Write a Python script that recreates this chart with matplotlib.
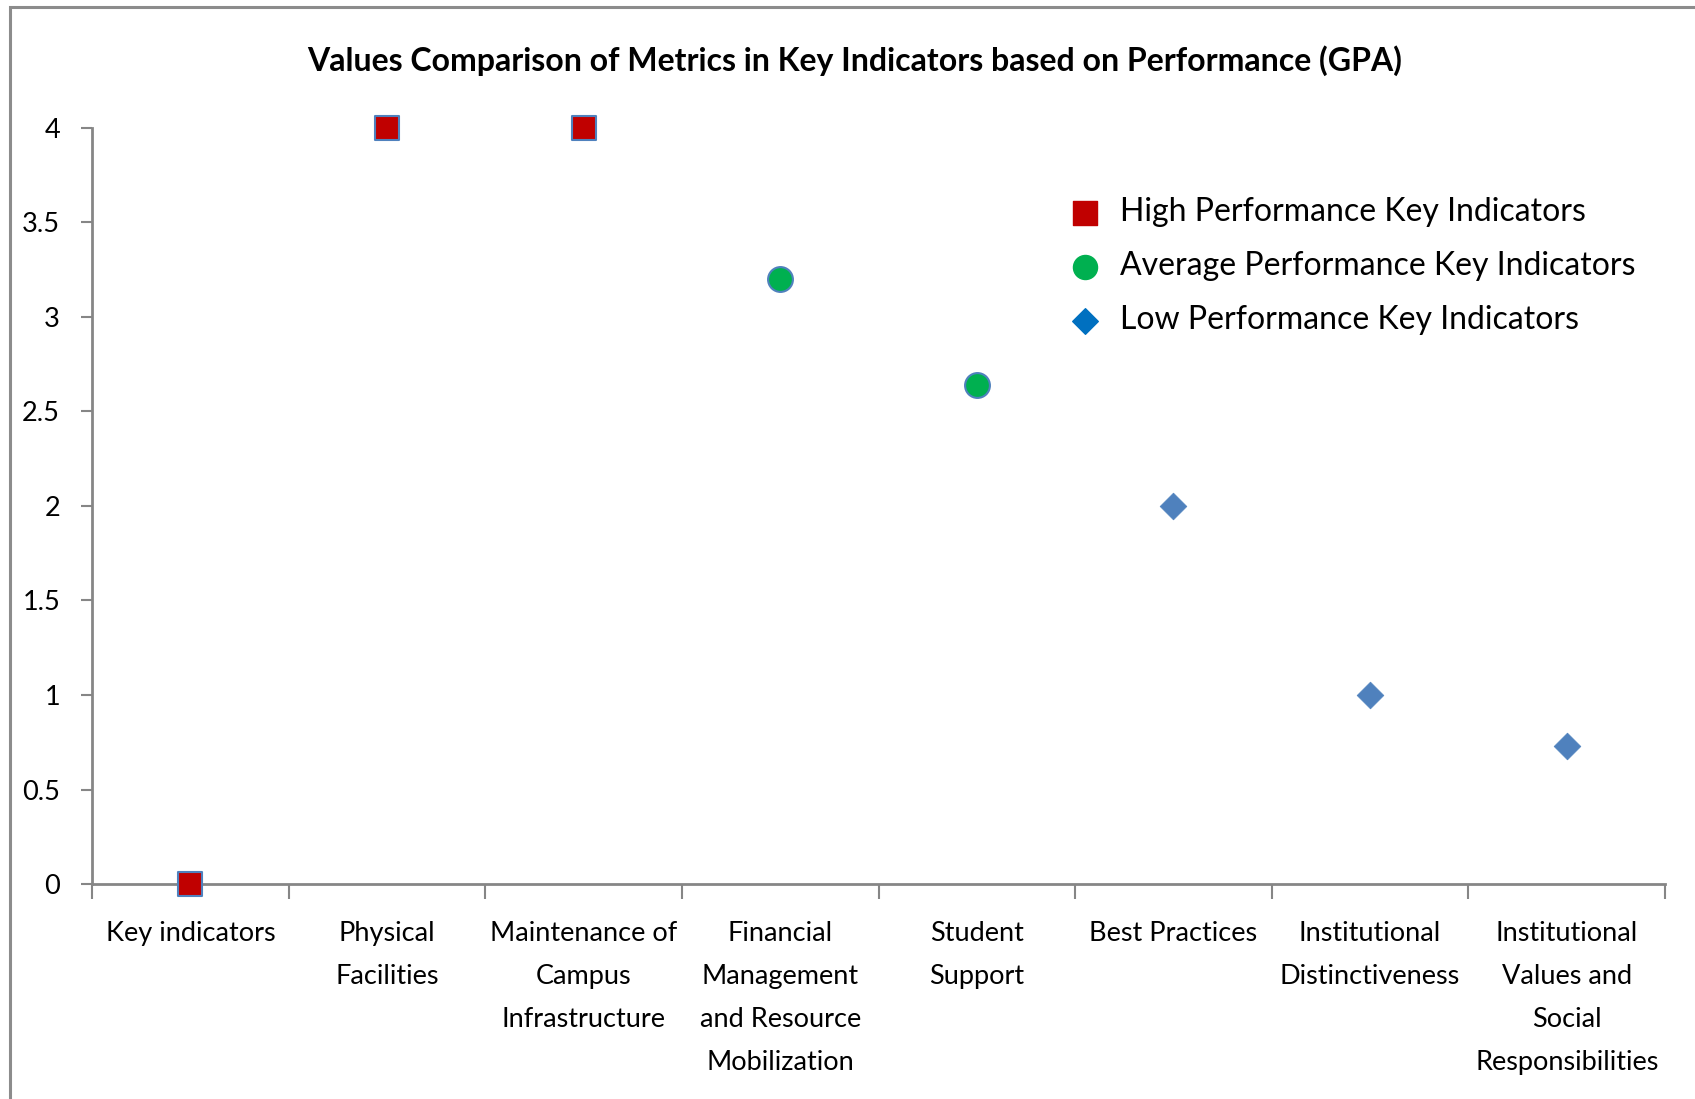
import matplotlib.pyplot as plt
from matplotlib.patches import Rectangle

plt.rcParams['font.family'] = ['Lato', 'DejaVu Sans']

categories = ["Key indicators", "Physical\nFacilities", "Maintenance of\nCampus\nInfrastructure",
              "Financial\nManagement\nand Resource\nMobilization", "Student\nSupport", "Best Practices",
              "Institutional\nDistinctiveness", "Institutional\nValues and\nSocial\nResponsibilities"]

high_idx = [0, 1, 2]
high_vals = [0, 4, 4]
avg_idx = [3, 4]
avg_vals = [3.2, 2.64]
low_idx = [5, 6, 7]
low_vals = [2, 1, 0.73]

axis_gray = '#868686'

fig = plt.figure(figsize=(16.95, 10.99), dpi=100)
ax = fig.add_axes([0.0543, 0.1956, 0.928, 0.688])

# figure frame (left and top edges visible, rest runs off the picture)
fig.patches.append(Rectangle((0.006, -0.05), 1.2, 1.044, transform=fig.transFigure,
                             fill=False, edgecolor='#8c8c8c', linewidth=2.2))

ax.scatter(high_idx, high_vals, marker='s', s=290, color='#C00000', edgecolors='#4F81BD',
           linewidths=1.5, clip_on=False, zorder=3)
ax.scatter(avg_idx, avg_vals, marker='o', s=320, color='#00B050', edgecolors='#4F81BD',
           linewidths=1.5, clip_on=False, zorder=3)
ax.scatter(low_idx, low_vals, marker='D', s=185, color='#4F81BD', edgecolors='#4F81BD',
           linewidths=0.5, clip_on=False, zorder=3)

ax.set_xlim(-0.5, len(categories) - 0.5)
ax.set_ylim(0, 4)

for side in ['top', 'right']:
    ax.spines[side].set_visible(False)
for side in ['left', 'bottom']:
    ax.spines[side].set_color(axis_gray)
    ax.spines[side].set_linewidth(2)

ax.set_yticks([0, 0.5, 1, 1.5, 2, 2.5, 3, 3.5, 4])
ax.set_yticklabels(['0', '0.5', '1', '1.5', '2', '2.5', '3', '3.5', '4'])
ax.tick_params(axis='y', length=8, width=1.5, color=axis_gray, labelsize=19.5, pad=15)

ax.set_xticks([i - 0.5 for i in range(len(categories) + 1)])
ax.set_xticklabels([])
ax.set_xticks(range(len(categories)), minor=True)
ax.set_xticklabels(categories, minor=True, linespacing=1.9)
ax.tick_params(axis='x', which='minor', length=0, labelsize=19.5, pad=26.5)
ax.tick_params(axis='x', which='major', length=11, width=1.5, color=axis_gray)

fig.text(0.504, 0.945, "Values Comparison of Metrics in Key Indicators based on Performance (GPA)",
         ha='center', va='center', fontsize=23, fontweight='bold')

# legend
h1 = ax.scatter([], [], marker='s', s=300, color='#C00000')
h2 = ax.scatter([], [], marker='o', s=300, color='#00B050')
h3 = ax.scatter([], [], marker='D', s=170, color='#0070C0')
ax.legend([h1, h2, h3], ["High Performance Key Indicators", "Average Performance Key Indicators",
                         "Low Performance Key Indicators"],
          loc='upper left', bbox_to_anchor=(0.613, 0.925), frameon=False, fontsize=23,
          handlelength=1.0, handletextpad=0.6, labelspacing=0.75, borderaxespad=0)

fig.savefig('out.png', dpi=100, facecolor='white')
